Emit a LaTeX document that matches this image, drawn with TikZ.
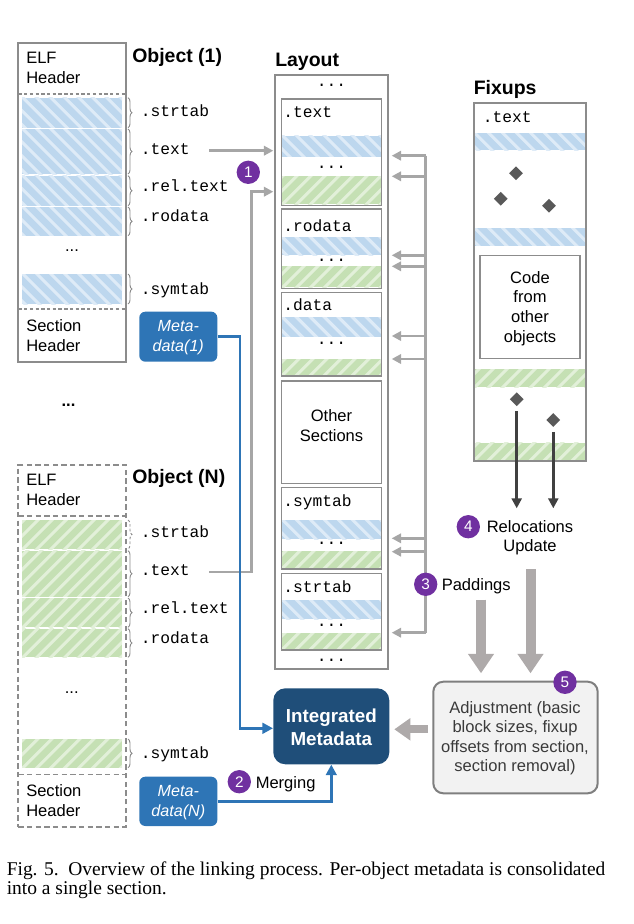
\documentclass[tikz,border=0pt]{standalone}
\usepackage{fontspec}
\setmainfont{Liberation Sans}
\setmonofont{Liberation Mono}
\newfontfamily\capfont{Liberation Serif}
\usetikzlibrary{arrows.meta,decorations.pathreplacing,shapes.geometric,fit}
\definecolor{bandblue}{HTML}{BDD7EE}
\definecolor{stripeblue}{HTML}{DEEBF7}
\definecolor{bandgreen}{HTML}{C5E0B4}
\definecolor{stripegreen}{HTML}{E2F0D9}
\definecolor{boxgray}{HTML}{8C8C8C}
\definecolor{conngray}{HTML}{A6A6A6}
\definecolor{bigarrow}{HTML}{AEAAAA}
\definecolor{metablue}{HTML}{2E75B6}
\definecolor{intblue}{HTML}{1F4E79}
\definecolor{stepviolet}{HTML}{7030A0}
\definecolor{diamondgray}{HTML}{595959}
\definecolor{relocgray}{HTML}{404040}
\definecolor{adjfill}{HTML}{F2F2F2}
\definecolor{adjdraw}{HTML}{7F7F7F}
\definecolor{adjtext}{HTML}{3A3A3A}
\newcommand{\bandB}[4]{%
  \begin{scope}
    \clip (#1,#2) rectangle (#3,#4);
    \fill[bandblue] (#1,#2) rectangle (#3,#4);
    \foreach \k in {-60,-46,...,130} {\draw[stripeblue,line width=2.3pt] ({#1+\k},{#2-5}) -- ++(60,60);}
  \end{scope}}
\newcommand{\bandG}[4]{%
  \begin{scope}
    \clip (#1,#2) rectangle (#3,#4);
    \fill[bandgreen] (#1,#2) rectangle (#3,#4);
    \foreach \k in {-60,-46,...,130} {\draw[stripegreen,line width=2.3pt] ({#1+\k},{#4+5}) -- ++(60,-60);}
  \end{scope}}
\begin{document}
\begin{tikzpicture}[x=0.75pt,y=-0.75pt,
  titlef/.style={font=\fontsize{14.6}{17}\selectfont\bfseries, inner sep=0, anchor=west, yshift=-1.5pt},
  bodyf/.style={font=\fontsize{12.4}{15}\selectfont, inner sep=0, align=left},
  monof/.style={font=\fontsize{12.2}{14}\selectfont\ttfamily, inner sep=0, anchor=base west, yshift=-1.3pt},
  dotsf/.style={font=\fontsize{12.2}{14}\selectfont\ttfamily, inner sep=0, anchor=base},
  stepnum/.style={circle, fill=stepviolet, text=white, inner sep=0, minimum size=17.5pt, font=\fontsize{11.5}{12}\selectfont},
  gconn/.style={draw=conngray, line width=2pt, -{Triangle[length=7pt,width=7pt]}},
  gline/.style={draw=conngray, line width=2pt},
  bconn/.style={draw=metablue, line width=2pt, -{Triangle[length=8pt,width=8pt]}},
  braceb/.style={draw=boxgray, line width=0.7pt, decorate, decoration={brace, amplitude=3pt}},
  objbox/.style={draw=boxgray, line width=1.5pt, inner sep=0},
  objdash/.style={draw=boxgray, line width=1.5pt, inner sep=0, dash pattern=on 4pt off 2.5pt},
  secbox/.style={draw=boxgray, line width=1.1pt, inner sep=0},
  sepline/.style={draw=boxgray, line width=0.8pt, dash pattern=on 2.5pt off 1.8pt},
  metabox/.style={fill=metablue, rounded corners=4.5pt, inner sep=0, text=white, align=center, font=\fontsize{12.1}{15}\selectfont\itshape},
  bigarr/.style={draw=bigarrow, line width=7.5pt, -{Triangle[length=14.5pt,width=18.5pt]}},
  bigarrh/.style={draw=bigarrow, line width=6pt, -{Triangle[length=12pt,width=16pt]}},
  relarr/.style={draw=relocgray, line width=2pt, -{Triangle[length=7.5pt,width=7.5pt]}},
  fixdia/.style={diamond, fill=diamondgray, inner sep=0, minimum size=10.5pt}
]
\useasboundingbox (0,0) rectangle (634,924);

% ---------------- Object (1) ----------------
\bandB{22}{97.7}{122}{127.7}
\bandB{22}{129}{122}{174}
\bandB{22}{175.7}{122}{205.7}
\bandB{22}{207}{122}{235.7}
\bandB{22}{274}{122}{304}
\node[fit={(18.3,42.7) (126,362)}, objbox] (obj1) {};
\draw[sepline] (18.3,94) -- (126,94);
\draw[sepline] (18.3,309) -- (126,309);
\node[bodyf, anchor=west] (o1elf) at (26,68) {ELF\\Header};
\node[bodyf, anchor=west] (o1sec) at (26,335.5) {Section\\Header};
\node[bodyf, anchor=base] (o1dots) at (72,251.5) {...};
\node[titlef] (o1title) at (132,55) {Object (1)};
\draw[braceb] (128,97.7) -- (128,127.7);
\draw[braceb] (128,129) -- (128,174);
\draw[braceb] (128,175.7) -- (128,205.7);
\draw[braceb] (128,207) -- (128,235.7);
\draw[braceb] (128,274) -- (128,304);
\node[monof] (o1strtab) at (140.5,114.5) {.strtab};
\node[monof] (o1text) at (140.5,152.5) {.text};
\node[monof] (o1rel) at (140.5,189.5) {.rel.text};
\node[monof] (o1rodata) at (140.5,219.5) {.rodata};
\node[monof] (o1symtab) at (140.5,292.5) {.symtab};
\node[metabox, fit={(139.3,311.7) (217.3,361.7)}] (meta1) {};
\node[metabox] (meta1t) at (178.3,337.7) {Meta-\\data(1)};

% middle dots
\node[font=\fontsize{12.4}{15}\selectfont\bfseries, inner sep=0, anchor=base] (middots) at (68.5,406.5) {...};

% ---------------- Object (N) ----------------
\bandG{22}{520}{122}{549}
\bandG{22}{550.7}{122}{596.7}
\bandG{22}{598}{122}{627.3}
\bandG{22}{628.7}{122}{657.3}
\bandG{22}{739}{122}{767.7}
\node[fit={(18.3,465) (126,826.7)}, objdash] (objN) {};
\draw[sepline, line width=1.2pt, dash pattern=on 4pt off 2.5pt] (18.3,515.7) -- (126,515.7);
\draw[sepline, line width=1.2pt, dash pattern=on 4pt off 2.5pt] (18.3,774.3) -- (126,774.3);
\node[bodyf, anchor=west] (oNelf) at (26,490) {ELF\\Header};
\node[bodyf, anchor=west] (oNsec) at (26,800.8) {Section\\Header};
\node[bodyf, anchor=base] (oNdots) at (71.7,693) {...};
\node[titlef] (oNtitle) at (132,476.7) {Object (N)};
\draw[braceb, dash pattern=on 2pt off 1.5pt] (128,520) -- (128,549);
\draw[braceb] (128,550.7) -- (128,596.7);
\draw[braceb] (128,598) -- (128,627.3);
\draw[braceb] (128,628.7) -- (128,657.3);
\draw[braceb] (128,739) -- (128,767.7);
\node[monof] (oNstrtab) at (140.5,536) {.strtab};
\node[monof] (oNtext) at (140.5,573.5) {.text};
\node[monof] (oNrel) at (140.5,611.5) {.rel.text};
\node[monof] (oNrodata) at (140.5,641.5) {.rodata};
\node[monof] (oNsymtab) at (140.5,756.5) {.symtab};
\node[metabox, fit={(139.3,776.7) (217.3,826)}] (metaN) {};
\node[metabox] (metaNt) at (178.3,802.8) {Meta-\\data(N)};

% ---------------- Layout ----------------
\node[titlef] (laytitle) at (275,60) {Layout};
\node[fit={(275,75) (387.7,669)}, objbox] (layout) {};
\node[dotsf] (ldots1) at (331.5,86.5) {...};
\node[dotsf] (ldots2) at (331.5,661.5) {...};
% .text
\bandB{281.7}{135.7}{381.3}{156.7}
\bandG{281.7}{176}{381.3}{204}
\node[fit={(281.7,99) (381.3,205.3)}, secbox] (ltext) {};
\node[monof] (ltextl) at (283,116.2) {.text};
\node[dotsf] (ltextd) at (331.5,168) {...};
% .rodata
\bandB{281.7}{237.3}{381.3}{255}
\bandG{281.7}{266}{381.3}{287.3}
\node[fit={(281.7,209) (381.3,288.3)}, secbox] (lrodata) {};
\node[monof] (lrodatal) at (283,229.5) {.rodata};
\node[dotsf] (lrodatad) at (331.5,261.5) {...};
% .data
\bandB{281.7}{317.3}{381.3}{336.7}
\bandG{281.7}{359.3}{381.3}{375}
\node[fit={(281.7,292.3) (381.3,376)}, secbox] (ldata) {};
\node[monof] (ldatal) at (283,309.2) {.data};
\node[dotsf] (ldatad) at (331.5,344.5) {...};
% other
\node[fit={(281.7,381) (381.3,483.3)}, secbox] (lother) {};
\node[bodyf, align=center] (lothert) at (331.5,425.3) {Other\\Sections};
% .symtab
\bandB{281.7}{520}{381.3}{539.3}
\bandG{281.7}{551}{381.3}{568}
\node[fit={(281.7,487.7) (381.3,569)}, secbox] (lsymtab) {};
\node[monof] (lsymtabl) at (283,505.2) {.symtab};
\node[dotsf] (lsymtabd) at (331.5,544) {...};
% .strtab
\bandB{281.7}{600}{381.3}{619.3}
\bandG{281.7}{633.3}{381.3}{649}
\node[fit={(281.7,573.3) (381.3,650)}, secbox] (lstrtab) {};
\node[monof] (lstrtabl) at (283,591.2) {.strtab};
\node[dotsf] (lstrtabd) at (331.5,626.5) {...};

% ---------------- Fixups ----------------
\node[titlef] (fixtitle) at (473.5,87) {Fixups};
\bandB{473.7}{133}{586.3}{150}
\bandB{473.7}{228}{586.3}{245.7}
\bandG{473.7}{369.3}{586.3}{387.3}
\bandG{473.7}{442.7}{586.3}{460}
\node[fit={(473.7,103.3) (586.3,460.7)}, objbox] (fixups) {};
\node[monof] (fixtextl) at (482.5,121.2) {.text};
\node[fit={(480,255.7) (580,358.7)}, secbox] (codebox) {};
\node[bodyf, align=center, font=\fontsize{12.4}{14.7}\selectfont] (codet) at (530,308.4) {Code\\from\\other\\objects};
\node[fixdia] (dA) at (516,173.3) {};
\node[fixdia] (dB) at (500.7,198.7) {};
\node[fixdia] (dC) at (549,205.7) {};
\node[fixdia] (dD) at (516.7,399.3) {};
\node[fixdia] (dE) at (553.3,420) {};

% relocation arrows
\coordinate (reltip) at (530,508.3);
\draw[relarr, shorten <=3.5pt] (dD.south) -- (dD.south |- reltip);
\draw[relarr, shorten <=3.5pt] (dE.south) -- (dE.south |- reltip);
\node[stepnum] (s4) at (468.3,526.7) {4};
\node[bodyf, align=center, font=\fontsize{12.4}{14.5}\selectfont] (relt) at (530,537.6) {Relocations\\Update};

% paddings
\coordinate (padtop) at (425.7,155.7);
\coordinate (padbot) at (425.7,632.7);
\draw[gline] (padtop) -- (padbot);
\foreach \yy [count=\i] in {155.7,176.3,255.3,266.3,336,359,538.3,551.7,632.7} {
  \coordinate (pad\i) at (425.7,\yy);
  \coordinate (padtip\i) at (391.7,\yy);
  \draw[gconn] (pad\i) -- (padtip\i);
}
\node[stepnum] (s3) at (425.7,584.3) {3};
\node[bodyf, anchor=west] (padt) at (441.5,586) {Paddings};

% object -> layout
\coordinate (a1s) at (209.3,150.7);
\coordinate (a1t) at (273.3,150.7);
\draw[gconn] (a1s) -- (a1t);
\coordinate (aNs) at (209.3,572);
\coordinate (aNc) at (251.5,191.7);
\coordinate (aNt) at (273.3,191.7);
\draw[gconn] (aNs) -| (aNc) -- (aNt);
\node[stepnum] (s1) at (248.3,172.3) {1};

% integrated metadata
\node[fit={(273.3,688.3) (389.3,764.3)}, fill=intblue, rounded corners=9pt, inner sep=0] (intm) {};
\node[text=white, font=\fontsize{14.1}{17}\selectfont\bfseries, align=center, inner sep=0] (intmt) at (331.3,727.3) {Integrated\\Metadata};
\coordinate (bjoin) at (240,728.3);
\draw[bconn] (meta1.east) -| (bjoin) -- (intm.west |- bjoin);
\draw[bconn] (metaN.east) -| (intm.south);
\node[stepnum] (s2) at (239.3,781.7) {2};
\node[bodyf, anchor=west] (mergt) at (255.5,784.5) {Merging};

% adjustment
\node[fit={(433.3,681.7) (597.7,793.3)}, fill=adjfill, draw=adjdraw, line width=1.5pt, rounded corners=7.5pt, inner sep=0] (adj) {};
\node[text=adjtext, font=\fontsize{12.4}{14.6}\selectfont, align=center, inner sep=0] (adjt) at (515,738.3) {Adjustment (basic\\block sizes, fixup\\offsets from section,\\section removal)};
\node[stepnum] (s5) at (565,682.3) {5};
\coordinate (bigLs) at (481,599.5);
\coordinate (bigLt) at (481,673.3);
\coordinate (bigRs) at (530.5,569);
\coordinate (bigRt) at (530.5,673.3);
\draw[bigarr] (bigLs) -- (bigLt);
\draw[bigarr] (bigRs) -- (bigRt);
\coordinate (bigHs) at (428,729.3);
\coordinate (bigHt) at (394.3,729.3);
\draw[bigarrh] (bigHs) -- (bigHt);

% caption
\node[font=\capfont\fontsize{14.6}{14.3}\selectfont, align=left, anchor=base west, inner sep=0] (caption) at (6.5,894.5) {Fig. 5.\enspace Overview of the linking process. Per-object metadata is consolidated\\into a single section.};
\end{tikzpicture}
\end{document}
